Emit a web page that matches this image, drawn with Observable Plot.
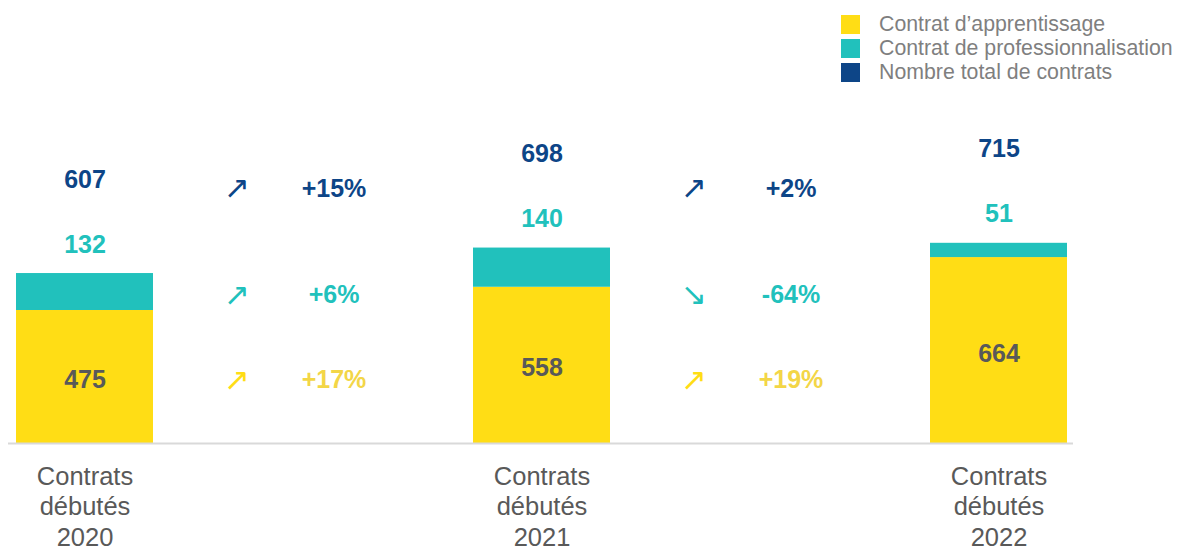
<!DOCTYPE html>
<html><head><meta charset="utf-8">
<script src="https://cdn.jsdelivr.net/npm/d3@7"></script>
<script src="https://cdn.jsdelivr.net/npm/@observablehq/plot@0.6"></script>
<style>
body{margin:0;background:#fff;font-family:"Liberation Sans",Arial,sans-serif;}
#wrap{position:relative;width:1178px;height:548px;overflow:hidden;}
#legend{position:absolute;left:841px;top:12px;font-size:21.3px;color:#7f7f7f;}
.item{display:flex;align-items:center;height:24px;white-space:nowrap;}
.sw{width:19px;height:19px;margin-right:19px;flex:none;}
#chart{position:absolute;left:0;top:0;}
</style></head><body>
<div id="wrap"><div id="chart"></div><div id="legend"></div></div>
<script>
// ---- Data ----
const years = ["2020", "2021", "2022"];
const apprentissage = [475, 558, 664];
const professionnalisation = [132, 140, 51];
const totals = [607, 698, 715];
const seriesNames = ["Contrat d’apprentissage", "Contrat de professionnalisation", "Nombre total de contrats"];
const seriesColors = ["#FFDD15", "#21C1BC", "#0D4587"];
const tickPrefix = "Contrats\ndébutés\n";

// ---- Derived tables ----
const bars = [];
years.forEach((y, i) => {
  bars.push({year: y, series: seriesNames[0], value: apprentissage[i]});
  bars.push({year: y, series: seriesNames[1], value: professionnalisation[i]});
});
const rows = years.map((y, i) => ({year: y, app: apprentissage[i], pro: professionnalisation[i], total: totals[i]}));

function pct(a, b) { const p = Math.round((b / a - 1) * 100); return (p >= 0 ? "+" : "") + p + "%"; }
function arrow(a, b) { return b >= a ? "↗" : "↘"; }
// change annotations, aligned on the rows of the first year's labels
const gaps = years.slice(0, -1).map((y, i) => ({
  from: y,
  appY: apprentissage[0] / 2,
  proY: apprentissage[0] + professionnalisation[0] / 2,
  totY: totals[0],
  appTxt: pct(apprentissage[i], apprentissage[i + 1]), appArr: arrow(apprentissage[i], apprentissage[i + 1]),
  proTxt: pct(professionnalisation[i], professionnalisation[i + 1]), proArr: arrow(professionnalisation[i], professionnalisation[i + 1]),
  totTxt: pct(totals[i], totals[i + 1]), totArr: arrow(totals[i], totals[i + 1])
}));

const numFont = {fontSize: 25, fontWeight: "bold", fontFamily: "Liberation Sans, Arial, sans-serif"};
const arrFont = {fontSize: 31, fontWeight: "normal", fontFamily: "DejaVu Sans, sans-serif"};
const arrowDx = 152, pctDx = 249;
const pctYellow = "#F3D647";

const chart = Plot.plot({
  width: 1178, height: 548,
  marginLeft: 8, marginRight: 105, marginTop: 163, marginBottom: 105,
  style: {fontFamily: "Liberation Sans, Arial, sans-serif", background: "transparent"},
  x: {domain: years, range: [16, 1068], paddingInner: 0.7, paddingOuter: 0},
  y: {domain: [0, 1000], axis: null},
  color: {domain: seriesNames, range: seriesColors},
  marks: [
    Plot.barY(bars, {x: "year", y: "value", fill: "series"}),
    Plot.ruleY([0], {stroke: "#d9d9d9", strokeWidth: 2}),
    Plot.axisX({tickSize: 0, tickPadding: 20, fontSize: 25.5, fill: "#595959", lineHeight: 1.19,
                tickFormat: d => tickPrefix + d, label: null}),
    // values
    Plot.text(rows, {x: "year", y: d => d.app / 2, text: "app", dy: 3, fill: "#595959", ...numFont}),
    Plot.text(rows, {x: "year", y: "total", text: "pro", dy: -29, fill: seriesColors[1], ...numFont}),
    Plot.text(rows, {x: "year", y: "total", text: "total", dy: -94, fill: seriesColors[2], ...numFont}),
    // changes
    Plot.text(gaps, {x: "from", y: "appY", text: "appArr", dx: arrowDx, dy: 3, fill: seriesColors[0], ...arrFont}),
    Plot.text(gaps, {x: "from", y: "appY", text: "appTxt", dx: pctDx, dy: 3, fill: pctYellow, ...numFont}),
    Plot.text(gaps, {x: "from", y: "proY", text: "proArr", dx: arrowDx, dy: 3, fill: seriesColors[1], ...arrFont}),
    Plot.text(gaps, {x: "from", y: "proY", text: "proTxt", dx: pctDx, dy: 3, fill: seriesColors[1], ...numFont}),
    Plot.text(gaps, {x: "from", y: "totY", text: "totArr", dx: arrowDx, dy: -85, fill: seriesColors[2], ...arrFont}),
    Plot.text(gaps, {x: "from", y: "totY", text: "totTxt", dx: pctDx, dy: -85, fill: seriesColors[2], ...numFont})
  ]
});
document.getElementById("chart").appendChild(chart);

// legend
const lg = document.getElementById("legend");
seriesNames.forEach((n, i) => {
  const it = document.createElement("div"); it.className = "item";
  const sw = document.createElement("div"); sw.className = "sw"; sw.style.background = seriesColors[i];
  const tx = document.createElement("span"); tx.textContent = n;
  it.appendChild(sw); it.appendChild(tx); lg.appendChild(it);
});
</script>
</body></html>
